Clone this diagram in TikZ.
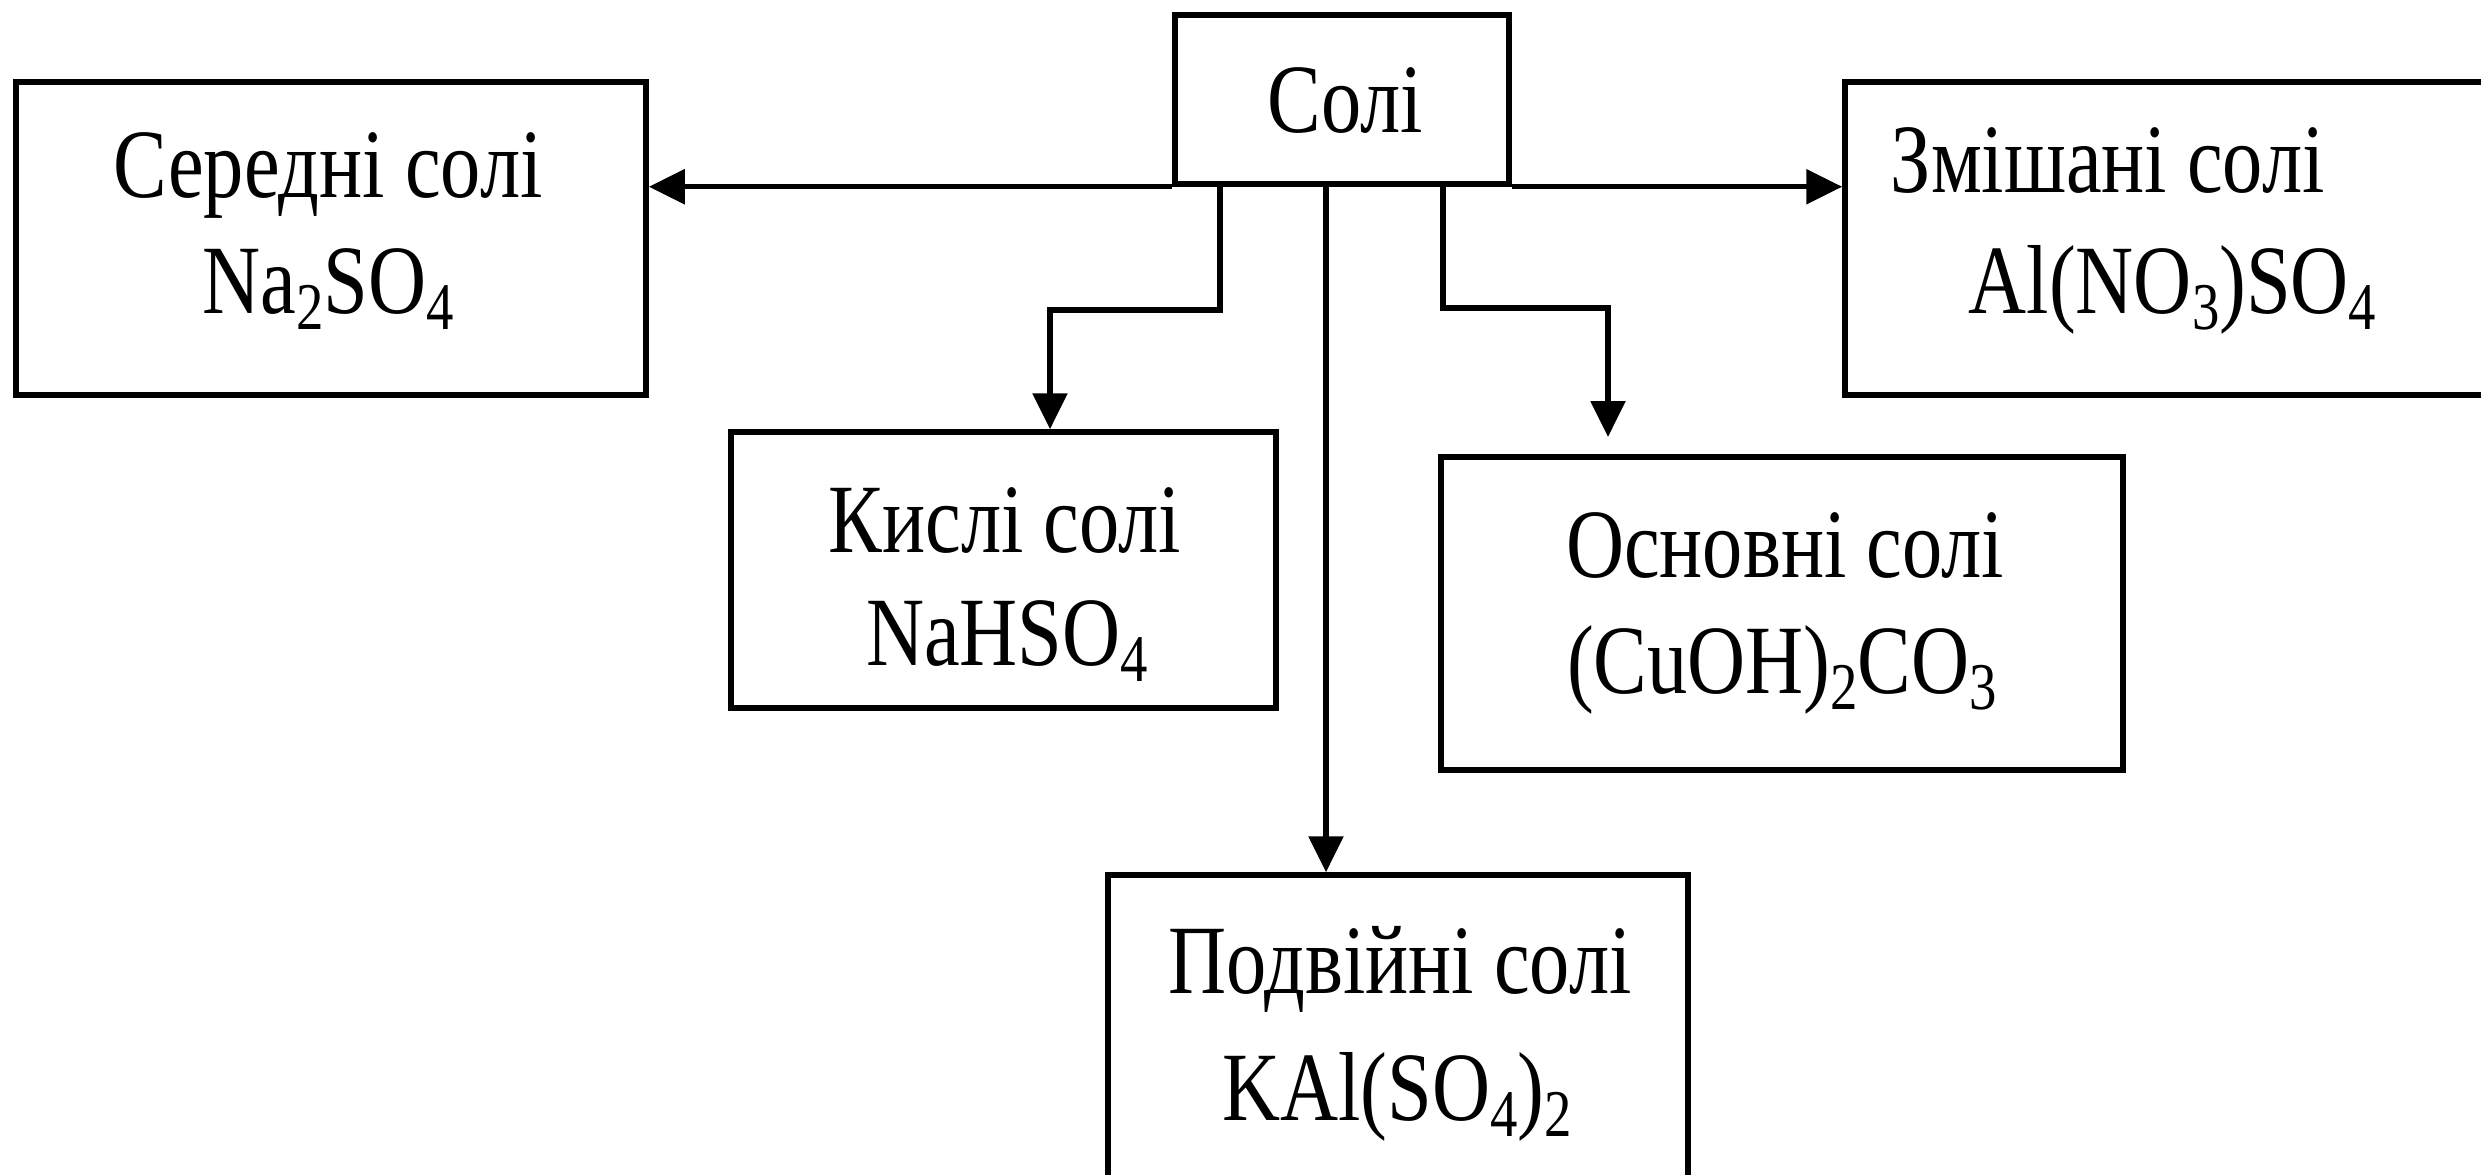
\documentclass[tikz,border=0pt]{standalone}
\usepackage{fontspec}
\setmainfont{Liberation Serif}[FakeStretch=0.82]
\usetikzlibrary{arrows.meta}
\newcommand\chsub[1]{\raisebox{-0.17em}{\fontsize{19pt}{20pt}\selectfont #1}}
\tikzset{
  box/.style={draw, line width=0.55mm, inner sep=0pt},
  lbl/.style={inner sep=0pt, anchor=base, font=\fontsize{27.9pt}{33pt}\selectfont},
  arr/.style={line width=0.55mm, -{Triangle[length=3.6mm, width=3.4mm]}}
}
\begin{document}
\begin{tikzpicture}[x=0.1mm, y=-0.1mm]
\clip (0,0) rectangle (2481,1174);
\fill[white] (0,0) rectangle (2481,1174);
% boxes
\node[box, minimum width=33.4mm, minimum height=16.9mm] (soli) at (1342,99.5) {};
\node[box, minimum width=63mm, minimum height=31.3mm] (ser) at (331,238.5) {};
\node[box, minimum width=67.5mm, minimum height=31.3mm] (mix) at (2182.5,238.5) {};
\node[box, minimum width=54.5mm, minimum height=27.6mm] (kys) at (1003.5,570) {};
\node[box, minimum width=68.2mm, minimum height=31.3mm] (osn) at (1782,613.5) {};
\node[box, minimum width=58mm, minimum height=31.5mm] (pod) at (1398,1032.5) {};
% texts
\node[lbl] (solit) at (1345,133) {Солі};
\node[lbl] (sera) at (328,197) {Середні солі};
\node[lbl] (serb) at (328,313) {Na\chsub{2}SO\chsub{4}};
\node[lbl, anchor=base west] (mixa) at (1890,193) {Змішані солі};
\node[lbl, anchor=base west] (mixb) at (1968,313) {Al(NO\chsub{3})SO\chsub{4}};
\node[lbl] (kysa) at (1005,552) {Кислі солі};
\node[lbl] (kysb) at (1007,665) {NaHSO\chsub{4}};
\node[lbl] (osna) at (1785,577) {Основні солі};
\node[lbl] (osnb) at (1782,693) {(CuOH)\chsub{2}CO\chsub{3}};
\node[lbl] (poda) at (1400,993) {Подвійні солі};
\node[lbl] (podb) at (1397,1120) {KAl(SO\chsub{4})\chsub{2}};
% helper coordinates
\coordinate (kb) at (1220,310);
\coordinate (ka) at (1050,0);
\coordinate (cx) at (1326,0);
\coordinate (rb) at (1443,308);
\coordinate (ra) at (1608,437);
% connectors
\draw[arr] (soli.south west) -- (soli.south west -| ser.east);
\draw[arr] (soli.south east) -- (soli.south east -| mix.west);
\draw[arr] (kb |- soli.south) -- (kb) -| (ka |- kys.north);
\draw[arr] (cx |- soli.south) -- (cx |- pod.north);
\draw[arr] (rb |- soli.south) -- (rb) -| (ra);
\end{tikzpicture}
\end{document}
